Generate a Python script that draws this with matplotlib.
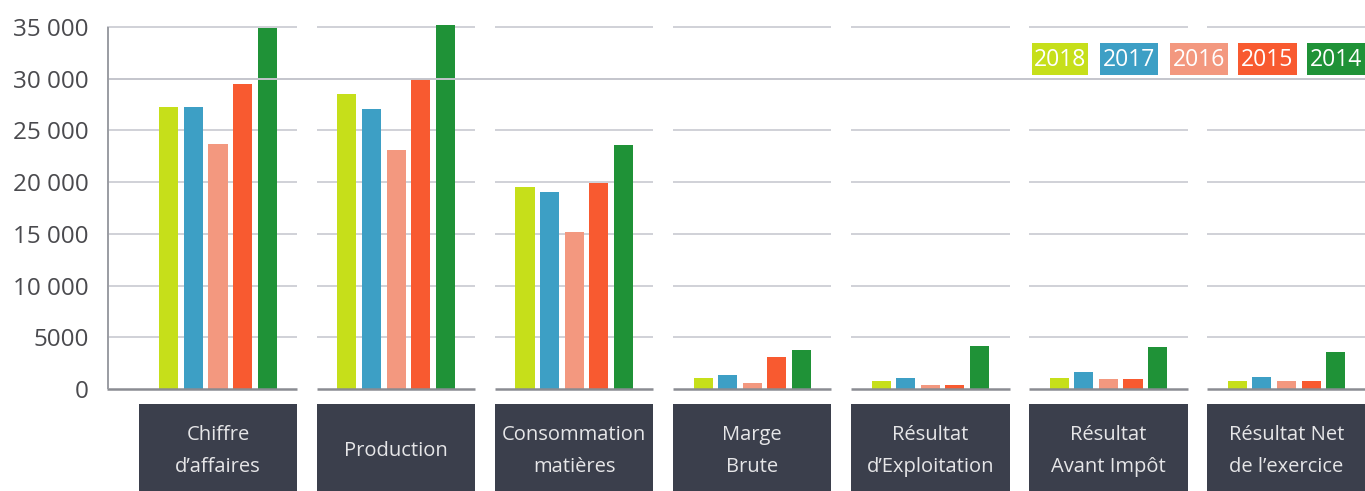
import matplotlib.pyplot as plt
from matplotlib.patches import Rectangle

plt.rcParams['font.family'] = ['Open Sans', 'DejaVu Sans']

categories = ["Chiffre\nd’affaires", "Production", "Consommation\nmatières", "Marge\nBrute",
              "Résultat\nd’Exploitation", "Résultat\nAvant Impôt", "Résultat Net\nde l’exercice"]
years = ['2018', '2017', '2016', '2015', '2014']
colors = ['#c6df1a', '#3d9fc5', '#f3987f', '#f85a30', '#1f9237']

v2018 = [27300, 28500, 19500, 1100, 800, 1100, 800]
v2017 = [27300, 27100, 19000, 1400, 1100, 1600, 1200]
v2016 = [23700, 23100, 15200, 600, 400, 1000, 800]
v2015 = [29500, 30000, 19900, 3100, 400, 1000, 800]
v2014 = [34900, 35200, 23600, 3800, 4200, 4100, 3600]
series = [v2018, v2017, v2016, v2015, v2014]

yticks = [0, 5000, 10000, 15000, 20000, 25000, 30000, 35000]
ytick_labels = ['0', '5000', '10 000', '15 000', '20 000', '25 000', '30 000', '35 000']

W, H = 1365, 491
fig = plt.figure(figsize=(W / 100, H / 100), dpi=100)
ax = fig.add_axes([107 / W, 0, 1 - 107 / W, 1])

ppk = 10.343  # pixels per 1000
ymin = -(491 - 389) / ppk * 1000
ymax = 389 / ppk * 1000
xmin = -(218 - 107) / 178.1
xmax = 6 + (1365 - 1286.5) / 178.1
ax.set_xlim(xmin, xmax)
ax.set_ylim(ymin, ymax)

n = len(categories)
bw = 0.107
pitch = 0.138
for j, (vals, c) in enumerate(zip(series, colors)):
    xs = [i + (j - 2) * pitch for i in range(n)]
    ax.bar(xs, vals, width=bw, color=c, zorder=2)

# segmented gridlines per group
half = 0.445
label_y = -(451 - 389) / ppk * 1000
for i in range(n):
    left = xmin if i == 0 else i - half
    right = i + half
    for t in yticks[1:]:
        if t == 30000:
            continue
        ax.hlines(t, left, right, color='#d0d1d7', lw=1.4, zorder=1)
    ax.hlines(0, left, right, color='#8a8c92', lw=1.8, zorder=3)
    # category box
    ax.add_patch(Rectangle((i - half, ymin), 2 * half, -1450 - ymin,
                           facecolor='#3b3f4c', edgecolor='none', clip_on=False))
    ax.text(i, label_y, categories[i], ha='center', va='center',
            color='#e6e6e8', fontsize=14.5, linespacing=1.75)

ax.axhline(30000, color='#c4c5cc', lw=1.4, zorder=3)
ax.vlines(xmin + 0.004, 0, 35000, color='#9a9ca2', lw=1.4, zorder=3)

ax.set_yticks(yticks)
ax.set_yticklabels(ytick_labels, fontsize=17.5, color='#4a4a4e')
ax.tick_params(axis='y', length=0, pad=13)
ax.set_xticks([])
for s in ax.spines.values():
    s.set_visible(False)

# legend boxes
leg_x = [(1032, 1088), (1100, 1158), (1170, 1228), (1238, 1297), (1307, 1365)]
for (x0, x1), yr, c in zip(leg_x, years, colors):
    fig.patches.append(Rectangle((x0 / W, 1 - 75 / H), (x1 - x0) / W, 32 / H,
                                 transform=fig.transFigure, facecolor=c,
                                 edgecolor='none'))
    fig.text((x0 + x1) / 2 / W, 1 - 60 / H, yr, ha='center', va='center',
             color='white', fontsize=16.5)

fig.savefig('out.png', dpi=100)
